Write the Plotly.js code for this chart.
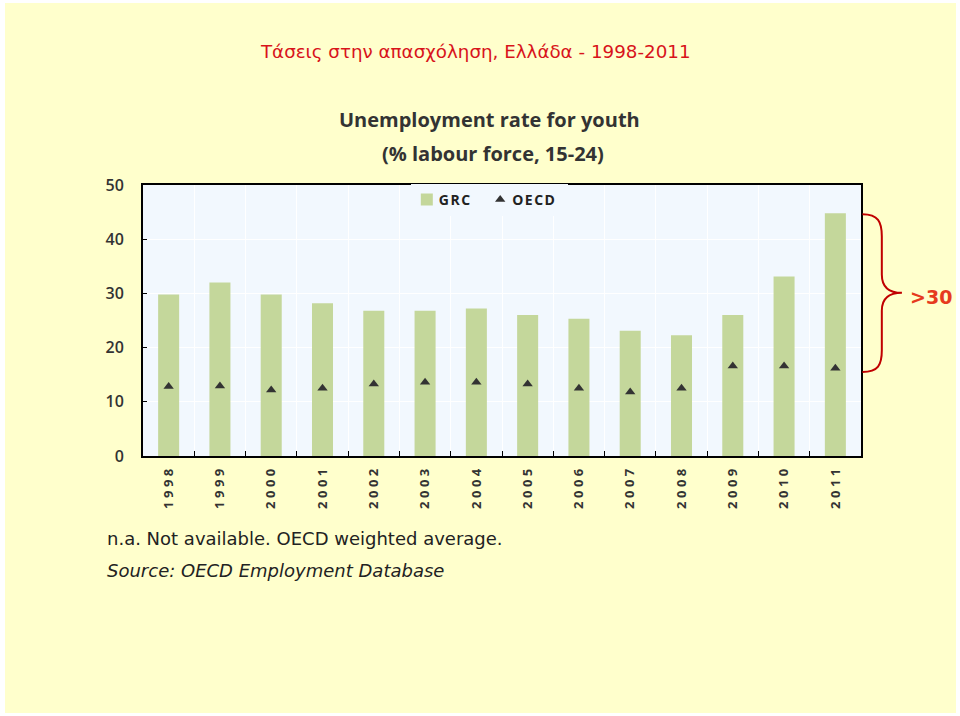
<!DOCTYPE html>
<html>
<head>
<meta charset="utf-8">
<script src="https://cdn.plot.ly/plotly-3.0.1.min.js"></script>
<style>
  body { margin: 0; background: #ffffff; }
  #chart { position: absolute; left: 5px; top: 3px; }
  #chart .xtick text { letter-spacing: 3.5px; }
  #chart .legend .legendtext { letter-spacing: 1.5px; transform: translateX(-12px); }
  #chart .legend .legendpoints { transform: translateX(-4px); }
</style>
</head>
<body>
<div id="chart"></div>
<script>
// youth unemployment, % labour force 15-24
let years = ['1998', '1999', '2000', '2001', '2002', '2003', '2004',
             '2005', '2006', '2007', '2008', '2009', '2010', '2011'];

let grcRate = [29.8, 32.0, 29.8, 28.2, 26.8, 26.8, 27.2,
               26.0, 25.3, 23.1, 22.3, 26.0, 33.1, 44.8];

let oecdRate = [12.8, 12.9, 12.2, 12.5, 13.3, 13.6, 13.6,
                13.3, 12.5, 11.8, 12.5, 16.6, 16.6, 16.2];

let yTicks = [0, 10, 20, 30, 40, 50];

let trace1 = {
    x: years,
    y: grcRate,
    type: 'bar',
    name: 'GRC',
    marker: { color: '#C4D79B' }
};

let trace2 = {
    x: years,
    y: oecdRate,
    type: 'scatter',
    mode: 'markers',
    name: 'OECD',
    marker: { symbol: 'triangle-up', size: 9, color: '#333333' }
};

var data = [trace1, trace2];

var layout = {
    width: 951,
    height: 710,
    margin: { l: 138, r: 95, t: 182, b: 257 },
    paper_bgcolor: '#FFFFCC',
    plot_bgcolor: '#F2F8FE',
    bargap: 0.59,
    showlegend: true,
    title: {
        text: 'Τάσεις στην απασχόληση, Ελλάδα - 1998-2011',
        font: { family: 'DejaVu Sans', size: 18.3, color: '#D8131B' },
        xref: 'container', yref: 'container',
        x: 0.495, y: 0.931, xanchor: 'center', yanchor: 'middle'
    },
    legend: {
        orientation: 'h',
        x: 0.373, xanchor: 'left',
        y: 1.004, yanchor: 'top',
        bgcolor: '#F2F8FE',
        font: { family: 'Open Sans', size: 14, color: '#222222', weight: 'bold' },
        itemwidth: 30,
        tracegroupgap: 0
    },
    xaxis: {
        type: 'category',
        range: [-0.5, 13.5],
        tickangle: -90,
        tickfont: { family: 'Open Sans', size: 13, color: '#333333', weight: 'bold' },
        ticks: 'inside',
        tickson: 'boundaries',
        ticklen: 5,
        tickcolor: '#000000',
        showline: true,
        linecolor: '#000000',
        linewidth: 2,
        mirror: true,
        showgrid: true,
        gridcolor: '#FFFFFF',
        ticklabelstandoff: 2,
        fixedrange: true
    },
    yaxis: {
        range: [0, 50],
        tickvals: yTicks,
        tickfont: { family: 'Open Sans', size: 16, color: '#333333', weight: 600 },
        ticks: 'inside',
        ticklen: 4,
        tickcolor: '#000000',
        showline: true,
        linecolor: '#000000',
        linewidth: 2,
        mirror: true,
        showgrid: true,
        gridcolor: '#FFFFFF',
        zeroline: false,
        ticklabelstandoff: 14,
        fixedrange: true
    },
    annotations: [
        {
            text: 'Unemployment rate for youth',
            xref: 'paper', yref: 'paper', x: 0.482, y: 1.240,
            xanchor: 'center', yanchor: 'middle', showarrow: false,
            font: { family: 'Open Sans', size: 20, color: '#333333', weight: 'bold' }
        },
        {
            text: '(% labour force, 15-24)',
            xref: 'paper', yref: 'paper', x: 0.487, y: 1.118,
            xanchor: 'center', yanchor: 'middle', showarrow: false,
            font: { family: 'Open Sans', size: 20, color: '#333333', weight: 'bold' }
        },
        {
            text: 'n.a. Not available. OECD weighted average.',
            xref: 'paper', yref: 'paper', x: -0.053, y: -0.306,
            xanchor: 'left', yanchor: 'middle', showarrow: false,
            font: { family: 'DejaVu Sans', size: 18, color: '#222222' }
        },
        {
            text: '<i>Source: OECD Employment Database</i>',
            xref: 'paper', yref: 'paper', x: -0.053, y: -0.424,
            xanchor: 'left', yanchor: 'middle', showarrow: false,
            font: { family: 'DejaVu Sans', size: 18, color: '#222222' }
        },
        {
            text: '<b>>30</b>',
            xref: 'paper', yref: 'y', x: 1.066, y: 29.4,
            xanchor: 'left', yanchor: 'middle', showarrow: false,
            font: { family: 'DejaVu Sans', size: 19, color: '#E63A1E' }
        }
    ],
    shapes: [
        {
            type: 'path',
            xref: 'paper', yref: 'y',
            path: 'M 1.002,44.6 C 1.024,44.6 1.029,43.2 1.029,40.5 L 1.029,33.5 ' +
                  'C 1.029,31 1.04,30.1 1.057,30.1 C 1.04,30.1 1.029,29.2 1.029,26.8 ' +
                  'L 1.029,19.5 C 1.029,16.8 1.024,15.5 1.002,15.5',
            line: { color: '#C00000', width: 2 }
        }
    ]
};

Plotly.newPlot('chart', data, layout, { displayModeBar: false, staticPlot: true });
</script>
</body>
</html>
